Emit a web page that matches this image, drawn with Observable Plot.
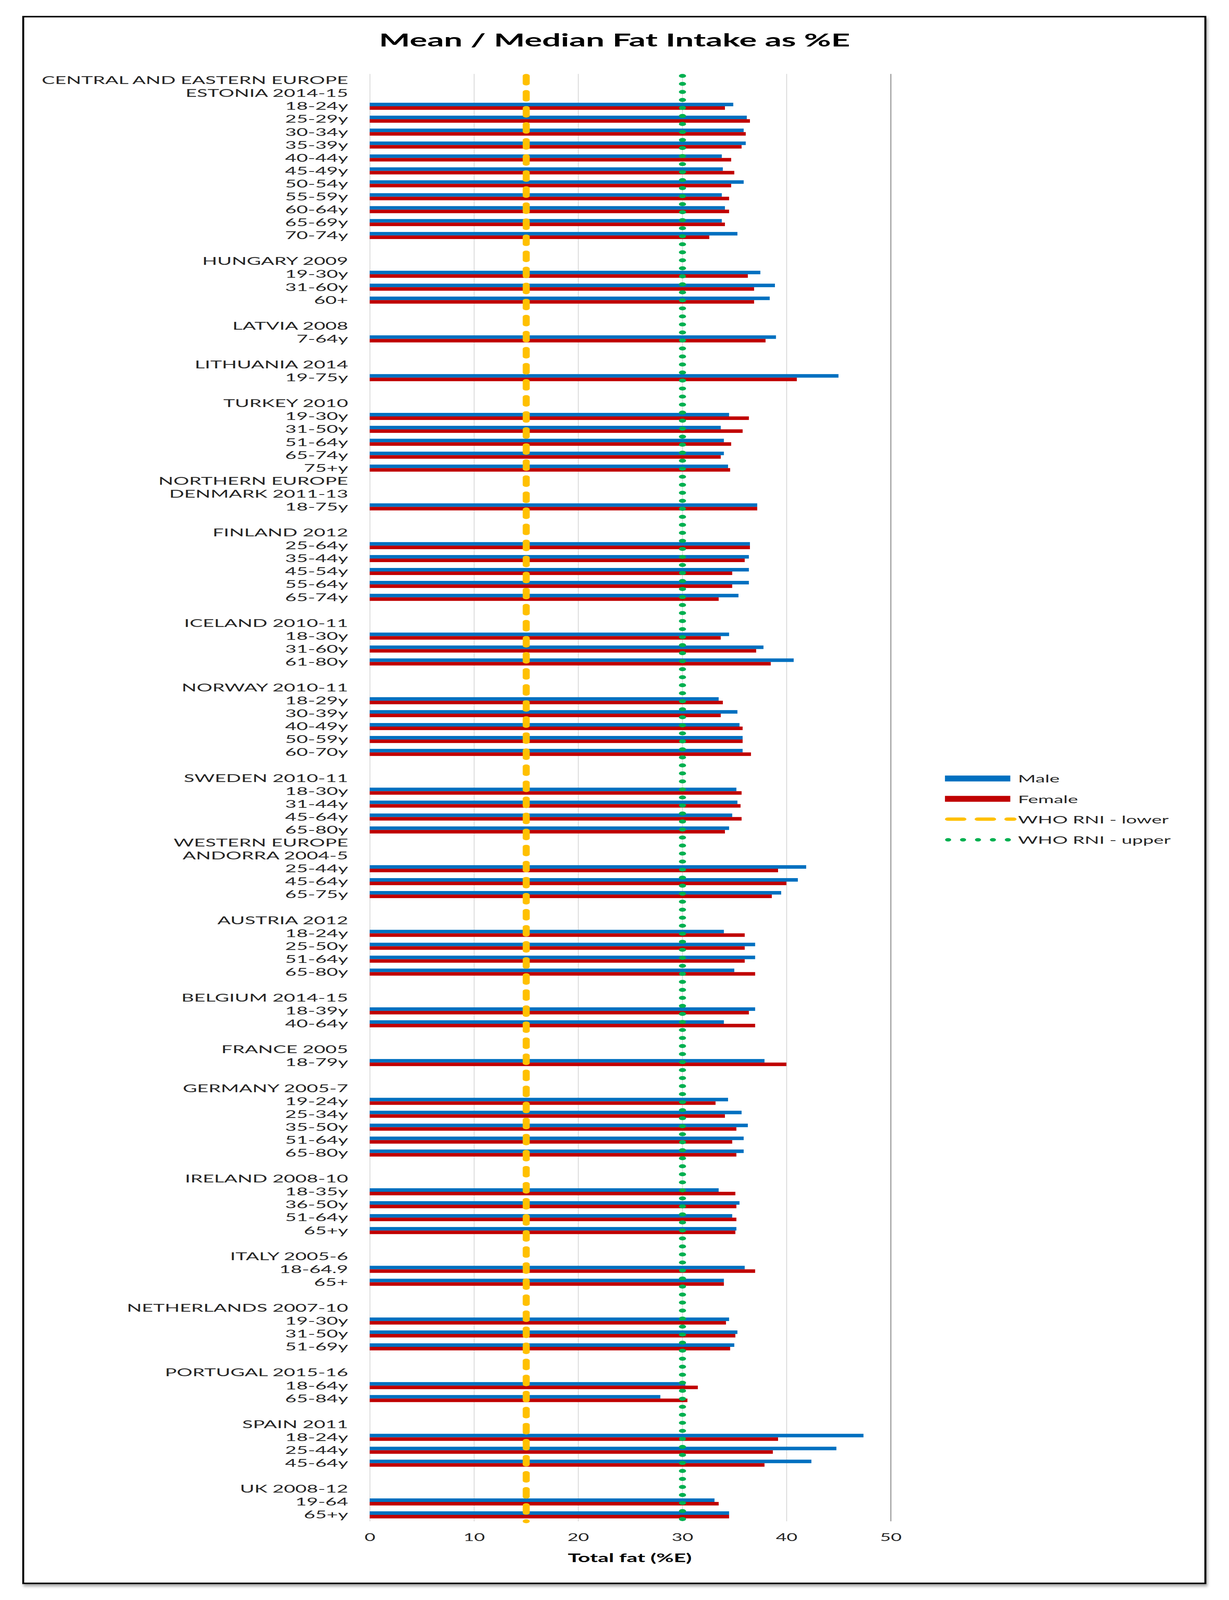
<!DOCTYPE html>
<html>
<head>
<meta charset="utf-8">
<script src="https://cdn.jsdelivr.net/npm/d3@7"></script>
<script src="https://cdn.jsdelivr.net/npm/@observablehq/plot@0.6"></script>
<style>
  html, body { margin: 0; padding: 0; background: #fff; }
  body { width: 3145px; height: 4096px; position: relative; overflow: hidden; font-family: Lato, "Open Sans", sans-serif; color: #262626; }
  /* the browser viewport is 4096px tall: the 5430px-tall layout is fitted into it */
  #root { position: absolute; left: 0; top: 0; width: 3145px; height: 5430px; transform: scaleY(0.754328); transform-origin: 0 0; }
  #frame { position: absolute; left: 57px; top: 54px; width: 3030px; height: 5322px; box-sizing: border-box;
           border: 5px solid #000; box-shadow: 3px 7px 8px rgba(0,0,0,0.35); }
  #stretch { position: absolute; left: 0; top: 0; width: 2312.5px; height: 5430px; transform: scaleX(1.36); transform-origin: 0 0; }
  #title { position: absolute; left: 0; top: 103px; width: 100%; text-align: center; font: 700 62px/62px Lato, sans-serif; color: #000; }
  #chart { position: absolute; left: 0; top: 200px; }
  #xlabel { position: absolute; left: 1185px; top: 5266px; transform: translateX(-50%); font: 700 40px/40px Lato, sans-serif; color: #000; white-space: nowrap; }
  #legend { position: absolute; left: 1778px; top: 2607px; }
  .lg { display: flex; align-items: center; height: 69.3px; }
  .lg svg { flex: none; }
  .lg span { font: 400 36px/36px Lato, sans-serif; color: #262626; white-space: nowrap; }
  #chart svg g[aria-label^="x-axis"] text { font-size: 35px; }
  #chart svg g[aria-label^="y-axis"] text { font-size: 37px; }
</style>
</head>
<body>
<div id="root">
  <div id="frame"></div>
  <div id="stretch">
    <div id="title">Mean / Median Fat Intake as %E</div>
    <div id="chart"></div>
    <div id="legend"></div>
    <div id="xlabel">Total fat (%E)</div>
  </div>
</div>
<script>
// ---- Data ----
const rowLabels = [
  "CENTRAL AND EASTERN EUROPE", "ESTONIA 2014-15",
  "18-24y", "25-29y", "30-34y", "35-39y", "40-44y", "45-49y", "50-54y", "55-59y", "60-64y", "65-69y", "70-74y",
  "", "HUNGARY 2009", "19-30y", "31-60y", "60+",
  "", "LATVIA 2008", "7-64y",
  "", "LITHUANIA 2014", "19-75y",
  "", "TURKEY 2010", "19-30y", "31-50y", "51-64y", "65-74y", "75+y",
  "NORTHERN EUROPE", "DENMARK 2011-13", "18-75y",
  "", "FINLAND 2012", "25-64y", "35-44y", "45-54y", "55-64y", "65-74y",
  "", "ICELAND 2010-11", "18-30y", "31-60y", "61-80y",
  "", "NORWAY 2010-11", "18-29y", "30-39y", "40-49y", "50-59y", "60-70y",
  "", "SWEDEN 2010-11", "18-30y", "31-44y", "45-64y", "65-80y",
  "WESTERN EUROPE", "ANDORRA 2004-5", "25-44y", "45-64y", "65-75y",
  "", "AUSTRIA 2012", "18-24y", "25-50y", "51-64y", "65-80y",
  "", "BELGIUM 2014-15", "18-39y", "40-64y",
  "", "FRANCE 2005", "18-79y",
  "", "GERMANY 2005-7", "19-24y", "25-34y", "35-50y", "51-64y", "65-80y",
  "", "IRELAND 2008-10", "18-35y", "36-50y", "51-64y", "65+y",
  "", "ITALY 2005-6", "18-64.9", "65+",
  "", "NETHERLANDS 2007-10", "19-30y", "31-50y", "51-69y",
  "", "PORTUGAL 2015-16", "18-64y", "65-84y",
  "", "SPAIN 2011", "18-24y", "25-44y", "45-64y",
  "", "UK 2008-12", "19-64", "65+y"
];

const male = [
  null, null,
  34.9, 36.2, 35.9, 36.1, 33.8, 33.9, 35.9, 33.8, 34.1, 33.8, 35.3,
  null, null, 37.5, 38.9, 38.4,
  null, null, 39.0,
  null, null, 45.0,
  null, null, 34.5, 33.7, 34.0, 34.0, 34.4,
  null, null, 37.2,
  null, null, 36.5, 36.4, 36.4, 36.4, 35.4,
  null, null, 34.5, 37.8, 40.7,
  null, null, 33.5, 35.3, 35.5, 35.8, 35.8,
  null, null, 35.2, 35.3, 34.8, 34.5,
  null, null, 41.9, 41.1, 39.5,
  null, null, 34.0, 37.0, 37.0, 35.0,
  null, null, 37.0, 34.0,
  null, null, 37.9,
  null, null, 34.4, 35.7, 36.3, 35.9, 35.9,
  null, null, 33.5, 35.5, 34.8, 35.2,
  null, null, 36.0, 34.0,
  null, null, 34.5, 35.3, 35.0,
  null, null, 30.3, 27.9,
  null, null, 47.4, 44.8, 42.4,
  null, null, 33.1, 34.5
];

const female = [
  null, null,
  34.1, 36.5, 36.1, 35.7, 34.7, 35.0, 34.7, 34.5, 34.5, 34.1, 32.6,
  null, null, 36.3, 36.9, 36.9,
  null, null, 38.0,
  null, null, 41.0,
  null, null, 36.4, 35.8, 34.7, 33.7, 34.6,
  null, null, 37.2,
  null, null, 36.5, 36.0, 34.8, 34.8, 33.5,
  null, null, 33.7, 37.1, 38.5,
  null, null, 33.9, 33.7, 35.8, 35.8, 36.6,
  null, null, 35.7, 35.6, 35.7, 34.1,
  null, null, 39.2, 40.0, 38.6,
  null, null, 36.0, 36.0, 36.0, 37.0,
  null, null, 36.4, 37.0,
  null, null, 40.0,
  null, null, 33.2, 34.1, 35.2, 34.8, 35.2,
  null, null, 35.1, 35.2, 35.2, 35.1,
  null, null, 37.0, 34.0,
  null, null, 34.2, 35.1, 34.6,
  null, null, 31.5, 30.5,
  null, null, 39.2, 38.7, 37.9,
  null, null, 33.5, 34.5
];

const xTicks = [0, 10, 20, 30, 40, 50];
const gridTicks = [0, 10, 20, 30, 40];
const axisMax = 50;
const whoLower = 15;
const whoUpper = 30;

const seriesNames = ["Male", "Female", "WHO RNI - lower", "WHO RNI - upper"];
const seriesColors = ["#0070C0", "#C00000", "#FFC000", "#00B050"];

// ---- Build table ----
const rows = rowLabels.map((label, i) => ({ i, label, male: male[i], female: female[i] }));
const maleRows = rows.filter(d => d.male != null);
const femaleRows = rows.filter(d => d.female != null);

const nRows = rowLabels.length;
const marginTop = 51, marginBottom = 100;
const plotH = 4912;
const band = plotH / nRows;
const barH = 12;

const chart = Plot.plot({
  width: 2312.5,
  height: marginTop + plotH + marginBottom,
  marginLeft: 695.6,
  marginRight: 636.8,
  marginTop,
  marginBottom,
  style: { fontFamily: "Lato, 'Open Sans', sans-serif", fontSize: "37px", color: "#262626", background: "transparent", overflow: "visible" },
  x: { domain: [0, axisMax], ticks: xTicks, tickSize: 0, tickPadding: 42, label: null },
  y: { type: "band", domain: d3.range(nRows), padding: 0, tickSize: 0, tickPadding: 41, tickFormat: i => rowLabels[i], label: null },
  marks: [
    Plot.ruleX(gridTicks, { stroke: "#D9D9D9", strokeWidth: 1.6 }),
    Plot.ruleX([axisMax], { stroke: "#A6A6A6", strokeWidth: 2.4 }),
    Plot.barX(maleRows, { x: "male", y: "i", fill: seriesColors[0], insetTop: band / 2 - barH, insetBottom: band / 2 }),
    Plot.barX(femaleRows, { x: "female", y: "i", fill: seriesColors[1], insetTop: band / 2, insetBottom: band / 2 - barH }),
    Plot.ruleX([whoLower], { stroke: seriesColors[2], strokeWidth: 13.2, strokeLinecap: "round", strokeDasharray: "25.8,28.7", strokeDashoffset: -6.6 }),
    Plot.ruleX([whoUpper], { stroke: seriesColors[3], strokeWidth: 13.5, strokeLinecap: "round", strokeDasharray: "0.01,27.2", strokeDashoffset: -6.5 })
  ]
});
document.getElementById("chart").appendChild(chart);

// ---- Legend ----
const legend = d3.select("#legend");
seriesNames.forEach((name, k) => {
  const row = legend.append("div").attr("class", "lg");
  const svg = row.append("svg").attr("width", 137.5).attr("height", 30);
  if (k < 2) {
    svg.append("rect").attr("x", 0).attr("y", 5).attr("width", 123).attr("height", 20).attr("fill", seriesColors[k]);
  } else if (k === 2) {
    svg.append("line").attr("x1", 5.75).attr("x2", 129).attr("y1", 15).attr("y2", 15)
      .attr("stroke", seriesColors[k]).attr("stroke-width", 11.5).attr("stroke-linecap", "round")
      .attr("stroke-dasharray", "28.9,27");
  } else {
    svg.append("line").attr("x1", 6).attr("x2", 119).attr("y1", 15).attr("y2", 15)
      .attr("stroke", seriesColors[k]).attr("stroke-width", 11.5).attr("stroke-linecap", "round")
      .attr("stroke-dasharray", "0.01,28.09");
  }
  row.append("span").text(name);
});
</script>
</body>
</html>
